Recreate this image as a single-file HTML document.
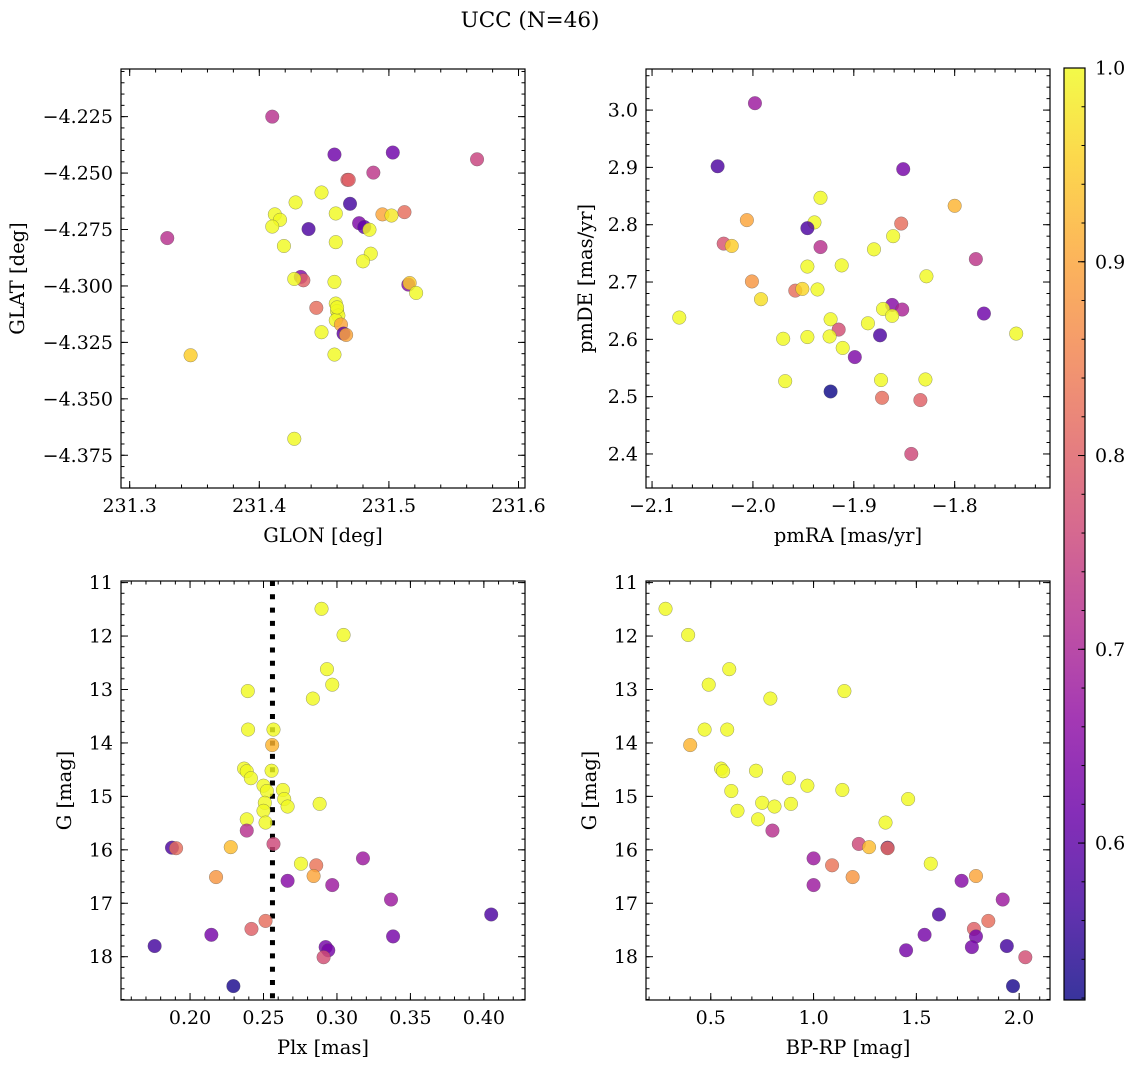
<!DOCTYPE html>
<html><head><meta charset="utf-8"><style>
html,body{margin:0;padding:0;background:#fff;}
svg{display:block;font-family:"DejaVu Serif","Liberation Serif",serif;}
</style></head><body>
<svg id="fig" width="1136" height="1068" viewBox="0 0 1136 1068" xmlns="http://www.w3.org/2000/svg">
<defs><linearGradient id="cbg" x1="0" y1="1" x2="0" y2="0"></linearGradient></defs>
<text x="530" y="27" font-size="21.5" text-anchor="middle">UCC (N=46)</text>
</svg>
<script>
// ---- Panel 1: positions ----
const glon1=[231.410,231.458,231.503,231.568,231.488,231.468,231.448,231.428,231.470,231.412,231.459,231.495,231.502,231.512,231.416,231.410,231.438,231.477,231.481,231.485,231.459,231.419,231.329,231.486,231.480,231.432,231.434,231.427,231.458,231.515,231.516,231.521,231.444,231.459,231.460,231.461,231.459,231.463,231.448,231.465,231.467,231.458,231.347,231.427,231.460,231.469];
const glat1=[-4.225,-4.2418,-4.2409,-4.2439,-4.2498,-4.2530,-4.2586,-4.2630,-4.2636,-4.2683,-4.2679,-4.2683,-4.2688,-4.2673,-4.2707,-4.2737,-4.2748,-4.2722,-4.2739,-4.2751,-4.2806,-4.2823,-4.2788,-4.2857,-4.2891,-4.2960,-4.2975,-4.2969,-4.2982,-4.2994,-4.2987,-4.3031,-4.3097,-4.3078,-4.3112,-4.3131,-4.3152,-4.3171,-4.3205,-4.3211,-4.3217,-4.3304,-4.3307,-4.3677,-4.3095,-4.2530];
const prob1=[0.72,0.62,0.62,0.75,0.73,0.80,1,1,0.57,1,1,0.90,0.98,0.82,1,1,0.58,0.64,0.60,1,1,1,0.72,1,1,0.65,0.80,1,1,0.65,0.95,1,0.82,1,1,1,1,0.90,1,0.60,0.90,1,0.95,1,1,0.80];
// ---- Panel 2: proper motions ----
const pmra2=[-1.998,-2.035,-1.851,-1.933,-1.800,-2.006,-1.939,-1.946,-1.853,-2.029,-2.021,-1.933,-1.861,-1.880,-1.779,-1.946,-1.912,-1.828,-2.001,-1.992,-1.958,-1.951,-1.936,-2.073,-1.862,-1.871,-1.852,-1.862,-1.771,-1.923,-1.886,-1.915,-1.970,-1.946,-1.924,-1.874,-1.739,-1.911,-1.899,-1.968,-1.873,-1.829,-1.923,-1.872,-1.834,-1.843];
const pmde2=[3.012,2.902,2.897,2.847,2.833,2.808,2.804,2.794,2.802,2.767,2.763,2.761,2.780,2.757,2.740,2.727,2.729,2.710,2.701,2.670,2.685,2.688,2.687,2.638,2.660,2.653,2.652,2.641,2.645,2.635,2.628,2.617,2.601,2.604,2.605,2.607,2.610,2.585,2.569,2.527,2.529,2.530,2.509,2.498,2.494,2.400];
const prob2=[0.68,0.58,0.63,1,0.92,0.90,1,0.58,0.82,0.78,0.95,0.72,1,1,0.73,1,1,1,0.88,0.97,0.82,0.96,1,1,0.65,1,0.70,1,0.62,1,1,0.77,1,1,1,0.58,1,1,0.64,1,1,1,0.52,0.82,0.80,0.76];
// ---- Panels 3 & 4: photometry ----
const plx=[0.2895,0.3045,0.2932,0.2968,0.2393,0.2836,0.2395,0.2568,0.2559,0.2368,0.2386,0.2555,0.2414,0.2500,0.2523,0.2632,0.2641,0.2882,0.2509,0.2664,0.2500,0.2514,0.2386,0.2386,0.2568,0.2277,0.1877,0.1905,0.3177,0.2755,0.2859,0.2841,0.2177,0.2664,0.2968,0.3368,0.405,0.2514,0.2418,0.2145,0.3382,0.1759,0.2923,0.2941,0.2909,0.2295];
const gmag=[11.49,11.98,12.62,12.91,13.03,13.17,13.75,13.75,14.04,14.48,14.53,14.52,14.66,14.80,14.90,14.88,15.05,15.14,15.12,15.19,15.27,15.49,15.43,15.64,15.89,15.95,15.96,15.97,16.16,16.26,16.29,16.49,16.51,16.58,16.66,16.93,17.21,17.33,17.48,17.59,17.62,17.80,17.82,17.88,18.01,18.55];
const bprp=[0.28,0.39,0.59,0.49,1.15,0.79,0.47,0.58,0.40,0.55,0.56,0.72,0.88,0.97,0.60,1.14,1.46,0.89,0.75,0.81,0.63,1.35,0.73,0.80,1.22,1.27,1.36,1.36,1.00,1.57,1.09,1.79,1.19,1.72,1.00,1.92,1.61,1.85,1.78,1.54,1.79,1.94,1.77,1.45,2.03,1.97];
const prob34=[1,1,1,1,1,1,1,1,0.92,1,1,1,1,1,1,1,1,1,1,1,1,1,1,0.72,0.76,0.93,0.58,0.82,0.68,1,0.83,0.9,0.88,0.65,0.68,0.68,0.58,0.82,0.80,0.63,0.63,0.57,0.63,0.63,0.77,0.53];
const plxMedian=0.2561;
const cbTicks=[0.6,0.7,0.8,0.9,1.0];

const NS="http://www.w3.org/2000/svg";
const svg=document.getElementById('fig');
const TF=19, LF=19.5;
function mk(tag,attrs,parent){const e=document.createElementNS(NS,tag);for(const k in attrs)e.setAttribute(k,attrs[k]);(parent||svg).appendChild(e);return e;}
const VMIN=0.519,VMAX=1.0;
const PL=[[13,8,135],[65,4,157],[106,0,168],[143,13,164],[177,42,144],[204,71,120],[225,100,98],[242,132,75],[252,166,54],[252,206,37],[240,249,33]];
function plasma(v){let t=(v-VMIN)/(VMAX-VMIN);t=Math.max(0,Math.min(1,t))*10;const i=Math.min(9,Math.floor(t)),f=t-i;const a=PL[i],b=PL[i+1];return 'rgb('+a.map((c,k)=>Math.round(c+(b[k]-c)*f)).join(',')+')';}
function fmt(v,d){const s=Math.abs(v).toFixed(d);return (v<-1e-9?'\u2212':'')+s;}

function panel(cfg){
  const g=mk('g',{});
  
  
  const sx=v=>cfg.x0+(v-cfg.xmin)/(cfg.xmax-cfg.xmin)*(cfg.x1-cfg.x0);
  const sy=v=>cfg.inv? cfg.y0+(v-cfg.ymin)/(cfg.ymax-cfg.ymin)*(cfg.y1-cfg.y0) : cfg.y1-(v-cfg.ymin)/(cfg.ymax-cfg.ymin)*(cfg.y1-cfg.y0);
  const tg=mk('g',{stroke:'#000','stroke-width':1},g);
  
  
  function ticksX(step,len,lab,dec){
    const a=Math.ceil(cfg.xmin/step-1e-6),b=Math.floor(cfg.xmax/step+1e-6);
    for(let k=a;k<=b;k++){const v=k*step,x=sx(v);
      mk('line',{x1:x,y1:cfg.y1,x2:x,y2:cfg.y1-len},tg);mk('line',{x1:x,y1:cfg.y0,x2:x,y2:cfg.y0+len},tg);
      if(lab){const t=mk('text',{x:x,y:cfg.y1+24,'font-size':TF,'text-anchor':'middle',stroke:'none',fill:'#000'},g);t.textContent=fmt(v,dec);
        
        }
    }}
  function ticksY(step,len,lab,dec){
    const lo=Math.min(cfg.ymin,cfg.ymax),hi=Math.max(cfg.ymin,cfg.ymax);
    const a=Math.ceil(lo/step-1e-6),b=Math.floor(hi/step+1e-6);
    for(let k=a;k<=b;k++){const v=k*step,y=sy(v);
      mk('line',{x1:cfg.x0,y1:y,x2:cfg.x0+len,y2:y},tg);mk('line',{x1:cfg.x1,y1:y,x2:cfg.x1-len,y2:y},tg);
      if(lab){const t=mk('text',{x:cfg.x0-8,y:y+6.5,'font-size':TF,'text-anchor':'end',stroke:'none',fill:'#000'},g);t.textContent=fmt(v,dec);
        
        }
    }}
  ticksX(cfg.xmin_step,3.5,false);ticksX(cfg.xmaj,7,true,cfg.xdec);
  ticksY(cfg.ymin_step,3.5,false);ticksY(cfg.ymaj,7,true,cfg.ydec);
  if(cfg.vline!==undefined){const l=mk('line',{x1:sx(cfg.vline),y1:cfg.y0,x2:sx(cfg.vline),y2:cfg.y1,stroke:'#000','stroke-width':5,'stroke-dasharray':'5 8.3'},g);
    
    }
  const pg=mk('g',{},g);
  
  
  cfg.xs.forEach((_,i)=>{const c=mk('circle',{cx:sx(cfg.xs[i]),cy:sy(cfg.ys[i]),r:6.8,fill:plasma(cfg.cs[i]),'fill-opacity':0.82,stroke:'#555','stroke-opacity':0.6,'stroke-width':0.5},pg);
    
    });
  const fr=mk('rect',{x:cfg.x0,y:cfg.y0,width:cfg.x1-cfg.x0,height:cfg.y1-cfg.y0,fill:'none',stroke:'#000','stroke-width':1.2},g);
  
  
  const xl=mk('text',{x:(cfg.x0+cfg.x1)/2,y:cfg.y1+54,'font-size':LF,'text-anchor':'middle'},g);xl.textContent=cfg.xlabel;
  
  
  const yx=cfg.ylx,yy=(cfg.y0+cfg.y1)/2;
  const yl=mk('text',{x:yx,y:yy,'font-size':LF,'text-anchor':'middle',transform:'rotate(-90 '+yx+' '+yy+')'},g);yl.textContent=cfg.ylabel;
  
  
}

panel({name:'position-panel',x0:121,x1:525,y0:69,y1:488,xmin:231.2933,xmax:231.605,ymin:-4.3895,ymax:-4.2039,
  xmaj:0.1,xmin_step:0.02,xdec:1,ymaj:0.025,ymin_step:0.005,ydec:3,xs:glon1,ys:glat1,cs:prob1,xlabel:'GLON [deg]',ylabel:'GLAT [deg]',ylx:24});
panel({name:'proper-motion-panel',x0:646,x1:1050,y0:69,y1:488,xmin:-2.106,xmax:-1.7055,ymin:2.3406,ymax:3.0717,
  xmaj:0.1,xmin_step:0.02,xdec:1,ymaj:0.1,ymin_step:0.02,ydec:1,xs:pmra2,ys:pmde2,cs:prob2,xlabel:'pmRA [mas/yr]',ylabel:'pmDE [mas/yr]',ylx:592});
panel({name:'parallax-panel',x0:121,x1:525,y0:581,y1:1000,xmin:0.153,xmax:0.428,ymin:10.97,ymax:18.81,inv:true,
  xmaj:0.05,xmin_step:0.01,xdec:2,ymaj:1,ymin_step:0.2,ydec:0,xs:plx,ys:gmag,cs:prob34,xlabel:'Plx [mas]',ylabel:'G [mag]',ylx:71,vline:plxMedian});
panel({name:'cmd-panel',x0:646,x1:1050,y0:581,y1:1000,xmin:0.185,xmax:2.15,ymin:10.97,ymax:18.81,inv:true,
  xmaj:0.5,xmin_step:0.1,xdec:1,ymaj:1,ymin_step:0.2,ydec:0,xs:bprp,ys:gmag,cs:prob34,xlabel:'BP-RP [mag]',ylabel:'G [mag]',ylx:596});

const grad=document.getElementById('cbg');
for(let i=0;i<=20;i++){const v=VMIN+(VMAX-VMIN)*i/20;mk('stop',{offset:(i/20),'stop-color':plasma(v),'stop-opacity':0.82},grad);}
const cb=mk('g',{});


const CX0=1064,CX1=1085,CY0=68,CY1=1000;
const cy=v=>CY1-(v-VMIN)/(VMAX-VMIN)*(CY1-CY0);
mk('rect',{x:CX0,y:CY0,width:CX1-CX0,height:CY1-CY0,fill:'url(#cbg)'},cb);
for(let k=Math.ceil(VMIN/0.02);k<=50;k++){const y=cy(k*0.02);mk('line',{x1:CX1,y1:y,x2:CX1-3.5,y2:y,stroke:'#000','stroke-width':1},cb);}
cbTicks.forEach(v=>{const y=cy(v);mk('line',{x1:CX1,y1:y,x2:CX1-7,y2:y,stroke:'#000','stroke-width':1},cb);
  const t=mk('text',{x:CX1+10,y:y+6.5,'font-size':TF},cb);t.textContent=v.toFixed(1);
  
  });
mk('rect',{x:CX0,y:CY0,width:CX1-CX0,height:CY1-CY0,fill:'none',stroke:'#000','stroke-width':1.2},cb);
</script>
</body></html>
